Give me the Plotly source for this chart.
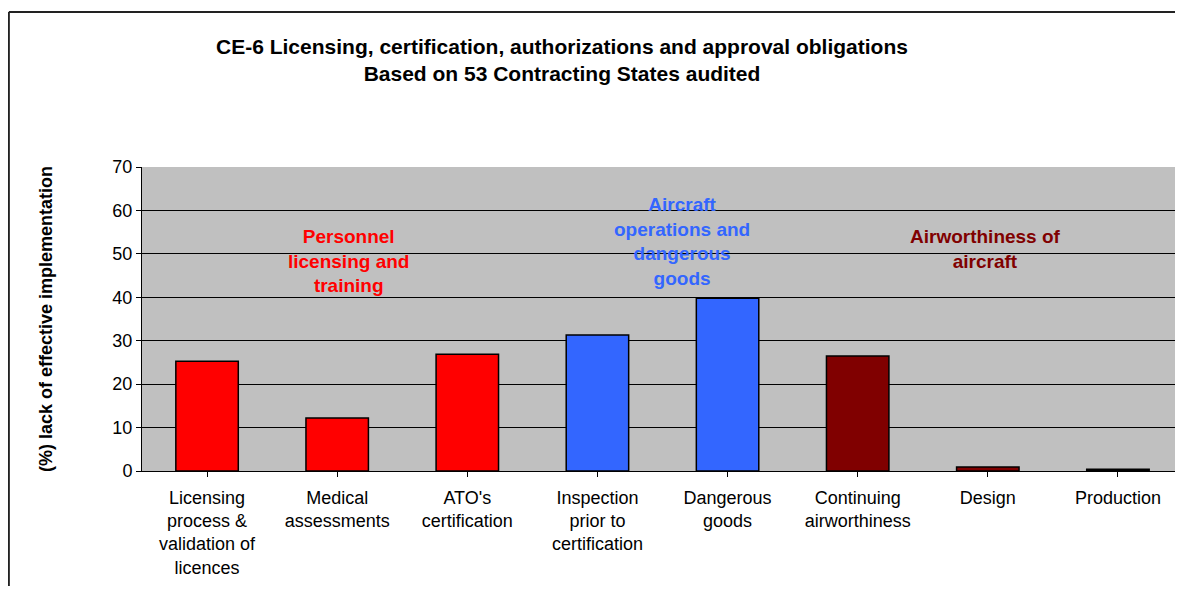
import plotly.graph_objects as go

categories = ["Licensing<br>process &<br>validation of<br>licences", "Medical<br>assessments",
              "ATO's<br>certification", "Inspection<br>prior to<br>certification",
              "Dangerous<br>goods", "Continuing<br>airworthiness", "Design", "Production"]
values = [25.3, 12.2, 26.9, 31.3, 39.8, 26.5, 0.9, 0.4]
colors = ["#FF0000", "#FF0000", "#FF0000", "#3366FF", "#3366FF", "#800000", "#800000", "#000000"]

group_labels = ["Personnel<br>licensing and<br>training", "Aircraft<br>operations and<br>dangerous<br>goods",
                "Airworthiness of<br>aircraft"]
group_pos = [1.09, 3.65, 5.98]
group_y = [48.3, 52.8, 51.2]
group_colors = ["#FF0000", "#3366FF", "#800000"]

font = "Liberation Sans, Arial, sans-serif"

fig = go.Figure()
fig.add_trace(go.Bar(x=list(range(len(categories))), y=values, width=0.48,
                     marker=dict(color=colors, line=dict(color="black", width=1.5))))

for lab, xp, yp, c in zip(group_labels, group_pos, group_y, group_colors):
    fig.add_annotation(x=xp, y=yp, text="<b>" + lab + "</b>", showarrow=False,
                       font=dict(family=font, size=19, color=c), xref="x", yref="y",
                       yanchor="middle")

# outer chart frame (left and top edges)
fig.add_shape(type="line", xref="paper", yref="paper", x0=-0.1279, x1=1.01, y0=1.51, y1=1.51,
              line=dict(color="#222", width=2))
fig.add_shape(type="line", xref="paper", yref="paper", x0=-0.1279, x1=-0.1279, y0=1.51, y1=-0.5,
              line=dict(color="#222", width=2))

fig.update_layout(
    width=1175, height=578,
    margin=dict(l=134, r=0, t=159, b=115),
    paper_bgcolor="white", plot_bgcolor="#C0C0C0",
    showlegend=False,
    title=dict(text="<b>CE-6 Licensing, certification, authorizations and approval obligations<br>Based on 53 Contracting States audited</b>",
               x=0.4715, xanchor="center", y=0.921, yanchor="middle",
               font=dict(family=font, size=21, color="black")),
    font=dict(family=font, size=18, color="black"),
)
fig.update_xaxes(tickvals=list(range(len(categories))), ticktext=categories,
                 range=[-0.5, 7.5], ticks="outside", tickson="boundaries", ticklen=5,
                 tickcolor="black", showline=True, linecolor="black", showgrid=False,
                 tickfont=dict(size=18), ticklabelstandoff=5)
fig.update_yaxes(range=[0, 70], dtick=10, ticks="outside", ticklen=5, tickcolor="black",
                 showline=True, linecolor="black", gridcolor="black", gridwidth=1,
                 tickfont=dict(size=18), zeroline=False,
                 title=dict(text="<b>(%) lack of effective implementation</b>", standoff=55,
                            font=dict(size=18)))

fig.write_html("out.html")
